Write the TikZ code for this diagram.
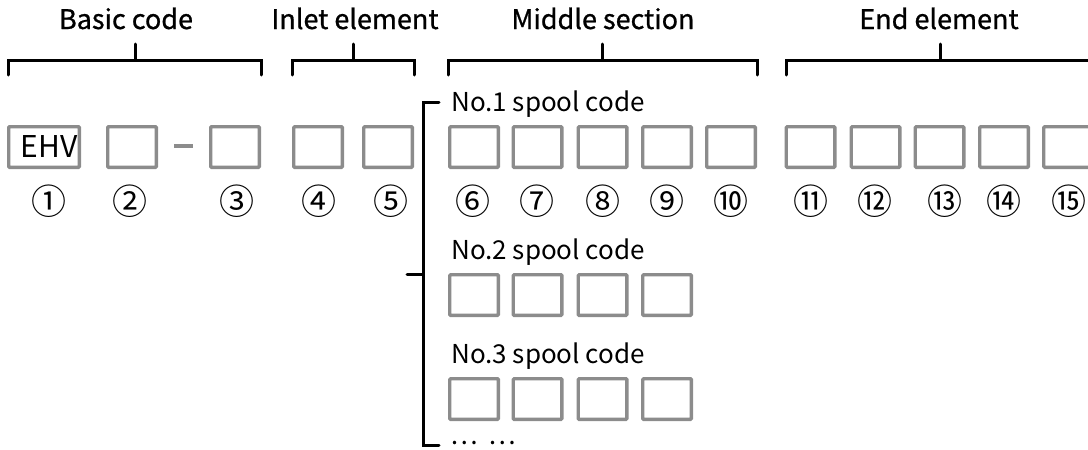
\documentclass[tikz,border=0pt]{standalone}
\usepackage{fontspec}
\newfontfamily\cjk{Noto Sans CJK SC}
\newfontfamily\cjkh[FakeBold=0.8]{Noto Sans CJK SC}
\begin{document}
\begin{tikzpicture}[x=1pt,y=-1pt,
  cell/.style={draw=boxgray,line width=3.4pt,minimum width=48.6pt,minimum height=40.6pt,inner sep=0pt,rounded corners=1pt,font=\cjk\fontsize{30}{32}\selectfont},
  wide/.style={cell,minimum width=70.6pt},
  head/.style={anchor=base,inner sep=0pt,font=\cjkh\fontsize{27}{30}\selectfont},
  lab/.style={anchor=base west,inner sep=0pt,font=\cjk\fontsize{26}{30}\selectfont},
  num/.style={inner sep=0pt,font=\cjk\fontsize{35}{38}\selectfont},
  brk/.style={draw=black,line width=3pt,line cap=round,line join=miter}]
\definecolor{boxgray}{HTML}{8C8C8C}
\useasboundingbox (0,0) rectangle (1088,450);
\clip (0,0) rectangle (1088,450);
% row 1 boxes
\node[wide] (b1) at (44,147) {\hspace*{10pt}EHV};
\node[cell] (b2) at (132,147) {};
\node[cell] (b3) at (235,147) {};
\node[cell] (b4) at (318,147) {};
\node[cell] (b5) at (388,147) {};
\node[cell] (b6) at (474,147) {};
\node[cell] (b7) at (537.5,147) {};
\node[cell] (b8) at (602.5,147) {};
\node[cell] (b9) at (667,147) {};
\node[cell] (b10) at (731,147) {};
\node[cell] (b11) at (810.5,147) {};
\node[cell] (b12) at (875.5,147) {};
\node[cell] (b13) at (939.5,147) {};
\node[cell] (b14) at (1004,147) {};
\node[cell] (b15) at (1068,147) {};
% dash
\coordinate (d1) at (174,146);
\coordinate (d2) at (193,146);
\draw[boxgray,line width=3.4pt] (d1) -- (d2);
% circled numbers
\node[num] (c1) at (49,201) {①};
\node[num] (c2) at (130,201) {②};
\node[num] (c3) at (237,201) {③};
\node[num] (c4) at (319,201) {④};
\node[num] (c5) at (391,201) {⑤};
\node[num] (c6) at (473,201) {⑥};
\node[num] (c7) at (537,201) {⑦};
\node[num] (c8) at (603,201) {⑧};
\node[num] (c9) at (667,201) {⑨};
\node[num] (c10) at (731,201) {⑩};
\node[num] (c11) at (811,201) {⑪};
\node[num] (c12) at (875,201) {⑫};
\node[num] (c13) at (945,201) {⑬};
\node[num] (c14) at (1004,201) {⑭};
\node[num] (c15) at (1069,201) {⑮};
% headings
\node[head] (h1) at (126,29) {Basic code};
\node[head] (h2) at (355,29) {Inlet element};
\node[head] (h3) at (603,29) {Middle section};
\node[head] (h4) at (939,29) {End element};
% brackets
\draw[brk] (8,75) -- (8,60) -- (261,60) -- (261,75);
\draw[brk] (135,60) -- (135,44);
\draw[brk] (292,75) -- (292,60) -- (414,60) -- (414,75);
\draw[brk] (353,60) -- (353,44);
\draw[brk] (448,75) -- (448,60) -- (757,60) -- (757,75);
\draw[brk] (602,60) -- (602,44);
\draw[brk] (786,75) -- (786,60) -- (1094,60) -- (1094,75);
\draw[brk] (940,60) -- (940,44);
% spool labels
\node[lab] (s1) at (451,111) {No.1 spool code};
\node[lab] (s2) at (451,259) {No.2 spool code};
\node[lab] (s3) at (451,363) {No.3 spool code};
\node[lab] (s4) at (450,444) {…};
\node[lab] (s5) at (488,444) {…};
% row 2 & 3 boxes
\node[cell] (r2a) at (474,295) {};
\node[cell] (r2b) at (537.5,295) {};
\node[cell] (r2c) at (602.5,295) {};
\node[cell] (r2d) at (667,295) {};
\node[cell] (r3a) at (474,399) {};
\node[cell] (r3b) at (537.5,399) {};
\node[cell] (r3c) at (602.5,399) {};
\node[cell] (r3d) at (667,399) {};
% spool bracket
\draw[brk] (439,102) -- (423,102) -- (423,445) -- (439,445);
\draw[brk] (407,274) -- (423,274);
\end{tikzpicture}
\end{document}
